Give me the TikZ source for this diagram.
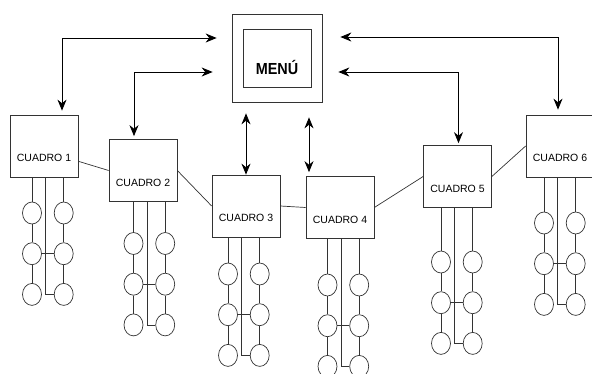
\documentclass[tikz,border=0pt]{standalone}
\usepackage{fontspec}
\setmainfont{Liberation Sans}
\usepackage{tikz}
\usetikzlibrary{positioning, arrows.meta, shapes.geometric, calc}

\begin{document}
\begin{tikzpicture}[
    x=1pt, y=-1pt,
    >={Stealth[length=11pt, width=9pt]},
    cuadro/.style={draw=black!80, line width=0.7pt, minimum width=68pt,
                   inner xsep=0pt, inner ysep=0pt, text height=47pt, text depth=15pt,
                   font=\fontsize{10.5}{12}\selectfont},
    menubox/.style={draw=black!80, line width=0.7pt},
    ring/.style={draw=black!80, ellipse, line width=0.7pt, minimum width=19pt,
                 minimum height=22pt, inner sep=0pt},
    wire/.style={draw=black!80, line width=0.7pt},
    dbl/.style={<->, line width=0.8pt},
  ]
  \useasboundingbox (0,0) rectangle (592,374);

  % Menu
  \node[menubox, minimum width=90pt, minimum height=88pt] (menu) at (277,58) {};
  \node[menubox, minimum width=68pt, inner sep=0pt, text height=46pt, text depth=12pt,
        font=\bfseries\fontsize{16}{16}\selectfont] (menuin) at (menu) {\scalebox{0.9}[1]{MENÚ}};

  % Cuadros with their rings
  \foreach \i/\bx/\by/\lx/\ty in {1/44/146/32/213, 2/143/170.5/133.5/243.5,
                                  3/246/206/228/274, 4/340/207.5/327.5/285,
                                  5/457.5/176.5/441/262, 6/560/146/544/223} {
    \node[cuadro] (c\i) at (\bx,\by) {CUADRO \i};
    \node[ring] (la\i) at (\lx,\ty) {};
    \node[ring, right=12pt of la\i] (ra\i) {};
    \node[ring, below=18pt of la\i] (lb\i) {};
    \node[ring, below=18pt of ra\i] (rb\i) {};
    \node[ring, below=18pt of lb\i] (lc\i) {};
    \node[ring, below=18pt of rb\i] (rc\i) {};
    \coordinate (m\i) at ($(la\i)!0.43!(ra\i)$);
    \draw[wire] (c\i.south -| la\i) -- (la\i) -- (lb\i) -- (lc\i);
    \draw[wire] (c\i.south -| ra\i) -- (ra\i) -- (rb\i) -- (rc\i);
    \draw[wire] (c\i.south -| m\i) -- (m\i |- rc\i) -- (rc\i);
    \draw[wire] (lb\i) -- (rb\i);
  }

  \draw[wire] (c1.-24) -- (c2.west);
  \draw[wire] (c2.east) -- (c3.west);
  \draw[wire] (c3.east) -- (c4.west);
  \draw[wire] (c4.east) -- (c5.west);
  \draw[wire] (c5.east) -- (c6.west);

  % Arrows to the menu
  \draw[dbl] ([shift={(-15,-20)}]menu.west) -| ([shift={(18,-4)}]c1.north);
  \draw[dbl] ([shift={(-19,14)}]menu.west) -| ([shift={(-9,-3)}]c2.north);
  \draw[dbl] ($(menu.south -| c3.north)+(0,11)$) -- (c3.north);
  \draw[dbl] ($(menu.south -| c4.north)+(-31,15)$) -- ($(c4.north)+(-31,-4)$);
  \draw[dbl] ([shift={(16,14)}]menu.east) -| ([shift={(1,-2)}]c5.north);
  \draw[dbl] ([shift={(18,-21)}]menu.east) -| ([shift={(-2,-5)}]c6.north);

\end{tikzpicture}
\end{document}
